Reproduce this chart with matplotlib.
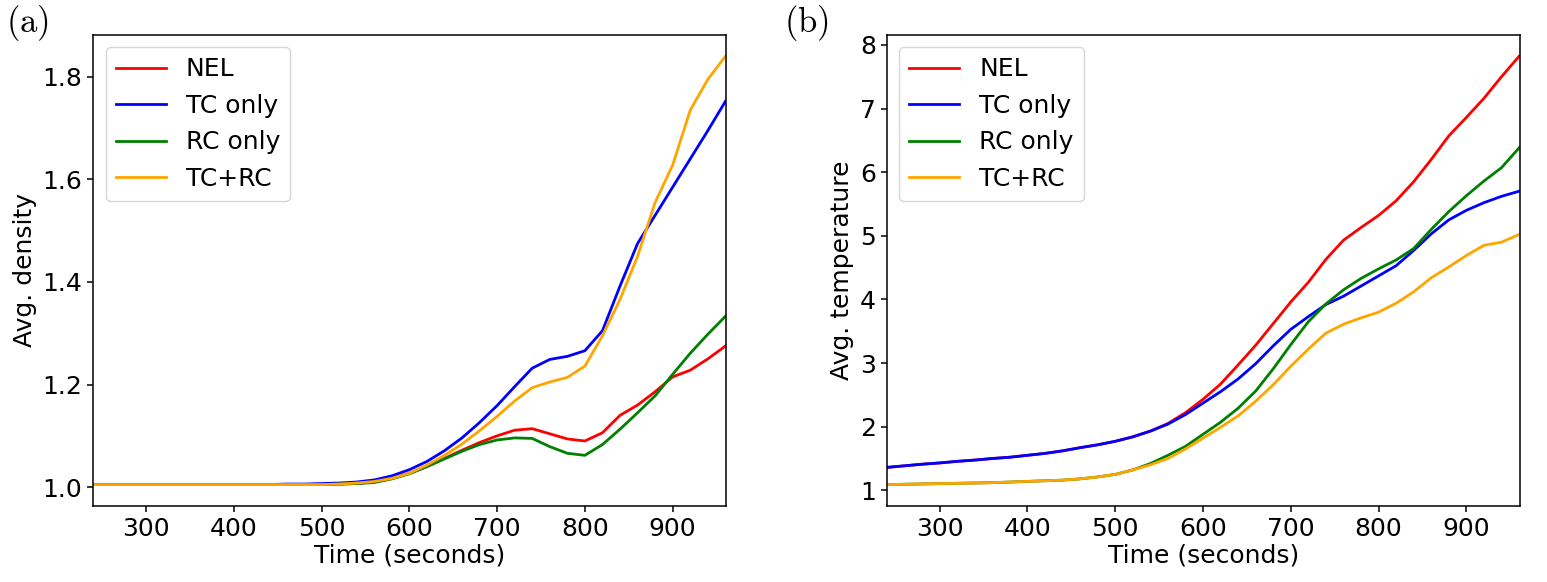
import matplotlib
matplotlib.use("Agg")
import matplotlib.pyplot as plt

plt.rcParams.update({
    "font.size": 18,
    "axes.linewidth": 1.1,
    "xtick.major.width": 1.1,
    "ytick.major.width": 1.1,
    "xtick.major.size": 4.5,
    "ytick.major.size": 4.5,
    "mathtext.fontset": "cm",
})

# time axis (seconds)
time = [240, 260, 280, 300, 320, 340, 360, 380, 400, 420, 440, 460, 480,
        500, 520, 540, 560, 580, 600, 620, 640, 660, 680, 700, 720, 740,
        760, 780, 800, 820, 840, 860, 880, 900, 920, 940, 960]

labels = ["NEL", "TC only", "RC only", "TC+RC"]
colors = ["red", "blue", "green", "orange"]

# (a) average density
dens_nel = [1.005] * 13 + [1.005, 1.006, 1.007, 1.010, 1.017, 1.027, 1.040,
                          1.056, 1.072, 1.087, 1.100, 1.111, 1.114, 1.104,
                          1.094, 1.090, 1.106, 1.140, 1.160, 1.186, 1.215,
                          1.228, 1.250, 1.275]
dens_tc = [1.005] * 11 + [1.006, 1.006, 1.007, 1.008, 1.010, 1.014, 1.022,
                          1.034, 1.050, 1.071, 1.096, 1.126, 1.159, 1.196,
                          1.232, 1.249, 1.255, 1.266, 1.305, 1.392, 1.475,
                          1.530, 1.585, 1.640, 1.695, 1.752]
dens_rc = [1.005] * 13 + [1.005, 1.006, 1.007, 1.009, 1.016, 1.026, 1.040,
                          1.055, 1.070, 1.083, 1.092, 1.096, 1.095, 1.079,
                          1.066, 1.062, 1.083, 1.113, 1.145, 1.178, 1.220,
                          1.261, 1.298, 1.333]
dens_both = [1.005] * 13 + [1.005, 1.006, 1.008, 1.011, 1.017, 1.027, 1.043,
                            1.062, 1.084, 1.110, 1.138, 1.168, 1.194, 1.205,
                            1.214, 1.236, 1.295, 1.366, 1.450, 1.555, 1.628,
                            1.735, 1.795, 1.840]

# (b) average temperature
temp_early_hot = [1.36, 1.385, 1.41, 1.43, 1.455, 1.475, 1.50, 1.52, 1.55,
                  1.58, 1.62, 1.67, 1.715, 1.77, 1.84, 1.93]
temp_early_cold = [1.09, 1.095, 1.10, 1.105, 1.11, 1.115, 1.12, 1.13, 1.14,
                   1.15, 1.16, 1.18, 1.21, 1.25, 1.32]
temp_nel = temp_early_hot + [2.05, 2.22, 2.43, 2.67, 2.97, 3.28, 3.62, 3.96,
                             4.27, 4.63, 4.93, 5.13, 5.32, 5.55, 5.85, 6.20,
                             6.57, 6.86, 7.16, 7.50, 7.82]
temp_tc = temp_early_hot + [2.04, 2.19, 2.37, 2.55, 2.75, 2.99, 3.27, 3.53,
                            3.73, 3.92, 4.05, 4.21, 4.37, 4.53, 4.77, 5.03,
                            5.25, 5.40, 5.52, 5.62, 5.70]
temp_rc = temp_early_cold + [1.42, 1.55, 1.69, 1.88, 2.07, 2.29, 2.56, 2.91,
                             3.29, 3.65, 3.93, 4.15, 4.33, 4.48, 4.62, 4.80,
                             5.10, 5.38, 5.63, 5.86, 6.07, 6.38]
temp_both = temp_early_cold + [1.40, 1.50, 1.65, 1.82, 1.99, 2.17, 2.40, 2.66,
                               2.95, 3.22, 3.47, 3.61, 3.71, 3.80, 3.94, 4.12,
                               4.34, 4.51, 4.69, 4.85, 4.90, 5.02]

fig, (ax1, ax2) = plt.subplots(1, 2, figsize=(15.47, 5.82), dpi=100)
fig.subplots_adjust(left=0.0603, right=0.9825, bottom=0.1306, top=0.94,
                    wspace=0.254)

for ax, series, ylab in [
    (ax1, [dens_nel, dens_tc, dens_rc, dens_both], "Avg. density"),
    (ax2, [temp_nel, temp_tc, temp_rc, temp_both], "Avg. temperature"),
]:
    for vals, lab, col in zip(series, labels, colors):
        ax.plot(time, vals, color=col, lw=2, label=lab)
    ax.set_xlim(time[0], 961)
    ax.set_xticks([300, 400, 500, 600, 700, 800, 900])
    ax.set_xlabel("Time (seconds)", labelpad=2)
    ax.set_ylabel(ylab)
    ax.legend(loc="upper left")

ax1.set_yticks([1.0, 1.2, 1.4, 1.6, 1.8])
ax2.set_yticks([1, 2, 3, 4, 5, 6, 7, 8])

fig.text(0.004, 0.995, r"$\mathrm{(a)}$", fontsize=25, va="top", ha="left")
fig.text(0.507, 0.995, r"$\mathrm{(b)}$", fontsize=25, va="top", ha="left")

plt.savefig("out.png", dpi=100)
